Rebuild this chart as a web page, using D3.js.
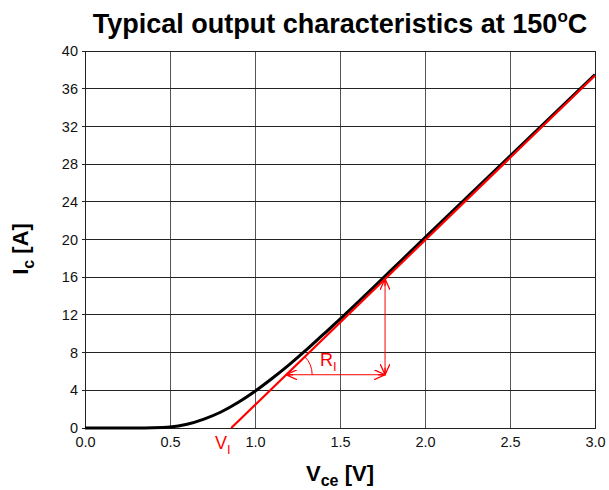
<!DOCTYPE html>
<html>
<head>
<meta charset="utf-8">
<script src="https://cdn.jsdelivr.net/npm/d3@7/dist/d3.min.js"></script>
<style>
  body { margin: 0; background: #fff; }
  text { font-family: Arial, "Liberation Sans", sans-serif; }
</style>
</head>
<body>
<div id="chart"></div>
<script>
// Data
const vceTicks = [0.0, 0.5, 1.0, 1.5, 2.0, 2.5, 3.0];
const icTicks = [0, 4, 8, 12, 16, 20, 24, 28, 32, 36, 40];
const vce = [0.0, 0.3, 0.4, 0.5, 0.6, 0.7, 0.8, 0.9, 1.0, 1.1, 1.2, 1.3, 1.4, 1.5, 1.6, 1.7, 1.8, 2.0, 2.5, 3.0];
const ic = [0.0, 0.0, 0.02, 0.1, 0.4, 0.95, 1.7, 2.7, 3.9, 5.25, 6.7, 8.25, 9.9, 11.55, 13.25, 14.98, 16.72, 20.2, 28.85, 37.5];
// tangent line (V_I, R_I)
const tangentV = [0.86, 3.0];
const tangentI = [0, 37.4];
// slope triangle: vertical arrow at V=1.765, horizontal arrow at I=5.65
const arrowV = 1.765;
const arrowI = 5.65;

const width = 609, height = 490;
const margin = { left: 85, right: 14, top: 51, bottom: 62 };

const svg = d3.select('#chart').append('svg')
    .attr('width', width)
    .attr('height', height);

const x = d3.scaleLinear().domain([0, 3]).range([margin.left, width - margin.right]);
const y = d3.scaleLinear().domain([0, 40]).range([height - margin.bottom, margin.top]);

// grid
svg.append('g').selectAll('line.vg')
    .data(vceTicks)
    .join('line')
    .attr('x1', d => x(d)).attr('x2', d => x(d))
    .attr('y1', y(0)).attr('y2', y(40))
    .attr('stroke', '#555').attr('stroke-width', 1)
    .attr('shape-rendering', 'crispEdges');
svg.append('g').selectAll('line.hg')
    .data(icTicks)
    .join('line')
    .attr('x1', x(0) - 3).attr('x2', x(3))
    .attr('y1', d => y(d)).attr('y2', d => y(d))
    .attr('stroke', '#222').attr('stroke-width', 1)
    .attr('shape-rendering', 'crispEdges');

// axes (labels only)
const xAxis = svg.append('g')
    .attr('transform', 'translate(0,' + y(0) + ')')
    .call(d3.axisBottom(x).tickValues(vceTicks).tickFormat(d3.format('.1f')).tickSize(0).tickPadding(9));
const yAxis = svg.append('g')
    .attr('transform', 'translate(' + x(0) + ',0)')
    .call(d3.axisLeft(y).tickValues(icTicks).tickSize(0).tickPadding(7));
[xAxis, yAxis].forEach(a => {
    a.select('.domain').remove();
    a.selectAll('text').style('font-size', '14.5px').attr('fill', '#111');
});

// border
svg.append('rect')
    .attr('x', x(0)).attr('y', y(40))
    .attr('width', x(3) - x(0)).attr('height', y(0) - y(40))
    .attr('fill', 'none').attr('stroke', '#222').attr('stroke-width', 1)
    .attr('shape-rendering', 'crispEdges');

// characteristic curve
const line = d3.line()
    .x((d, i) => x(vce[i]))
    .y(d => y(d))
    .curve(d3.curveMonotoneX);
svg.append('path')
    .datum(ic)
    .attr('d', line)
    .attr('fill', 'none')
    .attr('stroke', '#000')
    .attr('stroke-width', 3);

// tangent
const red = '#ff0000';
svg.append('line')
    .attr('x1', x(tangentV[0])).attr('y1', y(tangentI[0]))
    .attr('x2', x(tangentV[1])).attr('y2', y(tangentI[1]))
    .attr('stroke', red).attr('stroke-width', 2.2);

const slope = (tangentI[1] - tangentI[0]) / (tangentV[1] - tangentV[0]);
const topI = slope * (arrowV - tangentV[0]);
const leftV = tangentV[0] + arrowI / slope;

// open arrowhead marker
svg.append('defs').append('marker')
    .attr('id', 'arr')
    .attr('viewBox', '0 0 12 10')
    .attr('refX', 11).attr('refY', 5)
    .attr('markerWidth', 12).attr('markerHeight', 10)
    .attr('markerUnits', 'userSpaceOnUse')
    .attr('orient', 'auto-start-reverse')
    .append('path')
    .attr('d', 'M0,0 L11,5 L0,10 M11,5 L4,5')
    .attr('fill', 'none').attr('stroke', red).attr('stroke-width', 1.3);

svg.append('line')
    .attr('x1', x(arrowV)).attr('y1', y(topI))
    .attr('x2', x(arrowV)).attr('y2', y(arrowI))
    .attr('stroke', red).attr('stroke-width', 1)
    .attr('marker-start', 'url(#arr)').attr('marker-end', 'url(#arr)');
svg.append('line')
    .attr('x1', x(leftV)).attr('y1', y(arrowI))
    .attr('x2', x(arrowV)).attr('y2', y(arrowI))
    .attr('stroke', red).attr('stroke-width', 1)
    .attr('marker-start', 'url(#arr)').attr('marker-end', 'url(#arr)');

// angle arc
const ang = Math.atan2(y(0) - y(tangentI[1]), x(tangentV[1]) - x(tangentV[0]));
const r = 26;
const cx = x(leftV), cy = y(arrowI);
svg.append('path')
    .attr('d', 'M' + (cx + r) + ',' + cy + ' A' + r + ',' + r + ' 0 0 0 ' + (cx + r * Math.cos(ang)) + ',' + (cy - r * Math.sin(ang)))
    .attr('fill', 'none').attr('stroke', red).attr('stroke-width', 1);

// R_I and V_I labels
const rl = svg.append('text').attr('x', 320).attr('y', 366).attr('fill', red).style('font-size', '18px');
rl.append('tspan').text('R');
rl.append('tspan').attr('dy', 5).style('font-size', '13px').text('I');
const vl = svg.append('text').attr('x', 215).attr('y', 449).attr('fill', red).style('font-size', '18px');
vl.append('tspan').text('V');
vl.append('tspan').attr('dy', 5).style('font-size', '13px').text('I');

// title
const title = svg.append('text')
    .attr('x', 340).attr('y', 33)
    .attr('text-anchor', 'middle')
    .style('font-size', '27px').style('font-weight', 'bold');
title.append('tspan').text('Typical output characteristics at 150');
title.append('tspan').attr('dy', -11).style('font-size', '17px').text('o');
title.append('tspan').attr('dy', 11).text('C');

// axis titles
const xt = svg.append('text')
    .attr('x', 340).attr('y', 481)
    .attr('text-anchor', 'middle')
    .style('font-size', '22px').style('font-weight', 'bold');
xt.append('tspan').text('V');
xt.append('tspan').attr('dy', 5).style('font-size', '16px').text('ce');
xt.append('tspan').attr('dy', -5).text(' [V]');

const yt = svg.append('text')
    .attr('transform', 'translate(28,' + y(19) + ') rotate(-90)')
    .attr('text-anchor', 'middle')
    .style('font-size', '22px').style('font-weight', 'bold');
yt.append('tspan').text('I');
yt.append('tspan').attr('dy', 6).style('font-size', '16px').text('c');
yt.append('tspan').attr('dy', -6).text(' [A]');
</script>
</body>
</html>
